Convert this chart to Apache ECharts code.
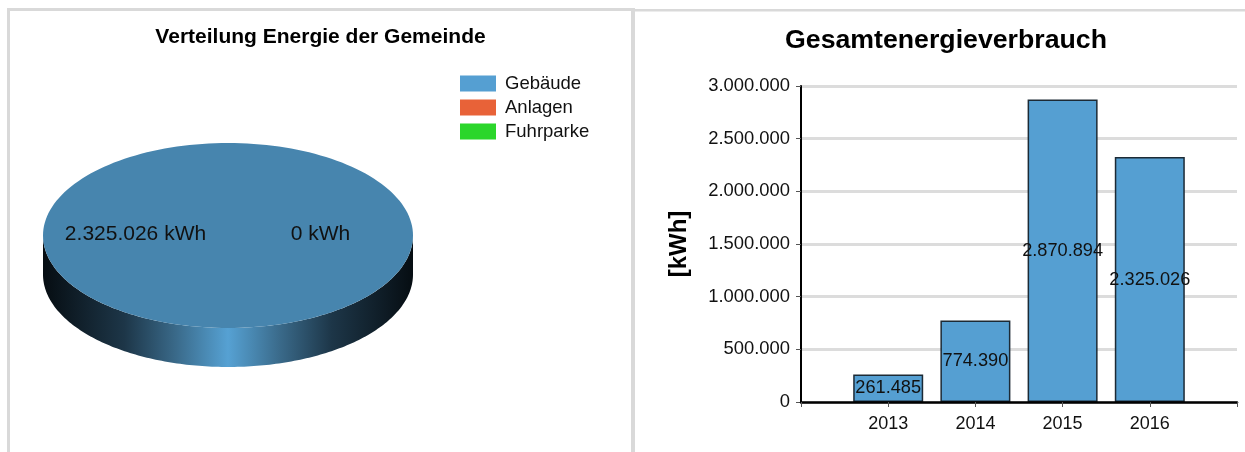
<!DOCTYPE html>
<html>
<head>
<meta charset="utf-8">
<title>Energie der Gemeinde</title>
<script src="https://cdn.jsdelivr.net/npm/echarts@6/dist/echarts.min.js"></script>
<style>
  html, body { margin: 0; padding: 0; background: #fff; }
  #chart { width: 1245px; height: 452px; }
</style>
</head>
<body>
<div id="chart"></div>
<script>
// pie data
const shareNames = ['Gebäude', 'Anlagen', 'Fuhrparke'];
const shareValues = [2325026, 0, 0];
const shareColors = ['#559fd2', '#e86238', '#2bd62b'];

// bar data, empty first and last slot as in the original axis
const years = ['', '2013', '2014', '2015', '2016', ''];
const consumption = [null, 261485, 774390, 2870894, 2325026, null];

const FONT = '"Liberation Sans", Arial, sans-serif';
const TEXT = '#111';

// disc geometry in px
const DISC = { cx: 228, cy: 235.5, rx: 185, ry: 92.5, depth: 39 };

const germanNumber = v => String(v).replace(/\B(?=(\d{3})+(?!\d))/g, '.');

const total = shareValues.reduce((a, b) => a + b, 0);
const arcPoint = (angle, dy) => [
  DISC.cx + DISC.rx * Math.cos(angle),
  DISC.cy + DISC.ry * Math.sin(angle) + (dy || 0)
];

function arcPoints(from, to, dy) {
  const pts = [];
  const steps = 180;
  for (let i = 0; i <= steps; i++) {
    pts.push(arcPoint(from + (to - from) * i / steps, dy));
  }
  return pts;
}

// ECharts has no tilted pie, so each slice is drawn as a custom series
function discSlice(index) {
  return function (params, api) {
    const value = api.value(0);
    const before = shareValues.slice(0, index).reduce((a, b) => a + b, 0);
    const start = before / total * Math.PI * 2;
    const end = (before + value) / total * Math.PI * 2;
    const mid = (start + end) / 2;
    const children = [];

    if (value > 0) {
      // front wall, only the part of the slice facing the viewer
      const wallFrom = Math.max(start, 0);
      const wallTo = Math.min(end, Math.PI);
      if (wallTo > wallFrom) {
        children.push({
          type: 'polygon',
          shape: {
            points: arcPoints(wallFrom, wallTo, 0).concat(arcPoints(wallTo, wallFrom, DISC.depth))
          },
          style: {
            fill: new echarts.graphic.LinearGradient(0, 0, 1, 0, [
              { offset: 0, color: '#060d12' },
              { offset: 0.22, color: '#1d3648' },
              { offset: 0.36, color: '#3a6a8a' },
              { offset: 0.44, color: '#4a8ab4' },
              { offset: 0.5, color: '#56a1d3' },
              { offset: 0.56, color: '#4a8ab4' },
              { offset: 0.64, color: '#3a6a8a' },
              { offset: 0.78, color: '#1d3648' },
              { offset: 1, color: '#060d12' }
            ])
          }
        });
      }
      children.push({
        type: 'polygon',
        shape: { points: [[DISC.cx, DISC.cy]].concat(arcPoints(start, end, 0)) },
        style: { fill: '#4785ae' }
      });
    }

    // zero slices share one spot, one label is enough
    if (value > 0 || shareValues.indexOf(0) === index) {
      const at = [
        DISC.cx + DISC.rx * 0.5 * Math.cos(mid),
        DISC.cy + DISC.ry * 0.5 * Math.sin(mid)
      ];
      children.push({
        type: 'text',
        z2: 10,
        style: {
          x: at[0],
          y: at[1] - 1,
          text: germanNumber(value) + ' kWh',
          fill: TEXT,
          font: '21px ' + FONT,
          align: 'center',
          verticalAlign: 'middle'
        }
      });
    }
    return { type: 'group', children };
  };
}

const sliceSeries = shareNames.map((name, i) => ({
  type: 'custom',
  name,
  coordinateSystem: 'none',
  itemStyle: { color: shareColors[i] },
  data: [[shareValues[i]]],
  silent: true,
  renderItem: discSlice(i)
}));

const panelLines = [
  [7, 8, 627, 3],
  [7, 8, 3, 444],
  [631, 8, 4, 444],
  [635, 9, 610, 2.5]
];

const chart = echarts.init(document.getElementById('chart'));

chart.setOption({
  animation: false,
  backgroundColor: '#fff',
  title: [
    {
      text: 'Verteilung Energie der Gemeinde',
      left: 315.5, top: 22, textAlign: 'center',
      textStyle: { fontFamily: FONT, fontSize: 21, fontWeight: 'bold', color: '#000' }
    },
    {
      text: 'Gesamtenergieverbrauch',
      left: 941, top: 22, textAlign: 'center',
      textStyle: { fontFamily: FONT, fontSize: 26.7, fontWeight: 'bold', color: '#000' }
    }
  ],
  legend: {
    orient: 'vertical',
    left: 460, top: 74,
    padding: 0,
    itemWidth: 36, itemHeight: 16, itemGap: 5,
    selectedMode: false,
    icon: 'rect',
    textStyle: { fontFamily: FONT, fontSize: 18.5, color: TEXT, padding: [0, 0, 0, 4] },
    data: shareNames.map((name, i) => ({ name, itemStyle: { color: shareColors[i] } }))
  },
  graphic: panelLines.map(([x, y, width, height]) => ({
    type: 'rect',
    shape: { x, y, width, height },
    style: { fill: '#d9d9d9' },
    silent: true
  })),
  grid: { left: 801, right: 8, top: 86, bottom: 50 },
  xAxis: {
    type: 'category',
    data: years,
    boundaryGap: false,
    z: 3,
    axisLine: { lineStyle: { color: '#000', width: 2.5 } },
    axisTick: { length: 5, lineStyle: { color: '#555' } },
    axisLabel: { interval: 0, margin: 13, fontFamily: FONT, fontSize: 18, color: TEXT }
  },
  yAxis: {
    type: 'value',
    min: 0, max: 3000000, interval: 500000,
    name: '[kWh]',
    nameLocation: 'middle',
    nameGap: 110,
    nameTextStyle: { fontFamily: FONT, fontSize: 24, fontWeight: 'bold', color: '#000' },
    axisLine: { show: true, lineStyle: { color: '#000', width: 2 } },
    axisTick: { show: true, length: 5, lineStyle: { color: '#555' } },
    axisLabel: { margin: 11, fontFamily: FONT, fontSize: 18.4, color: TEXT, formatter: germanNumber },
    splitLine: { lineStyle: { color: '#dcdcdc', width: 3 } }
  },
  series: [
    ...sliceSeries,
    {
      type: 'bar',
      name: 'Gesamtenergieverbrauch',
      data: consumption,
      barWidth: 70,
      itemStyle: { color: '#559fd2', borderColor: '#1c2a35', borderWidth: 1.5 },
      label: {
        show: true,
        position: 'inside',
        fontFamily: FONT,
        fontSize: 18.2,
        color: TEXT,
        formatter: p => germanNumber(p.value)
      }
    }
  ]
});
</script>
</body>
</html>
